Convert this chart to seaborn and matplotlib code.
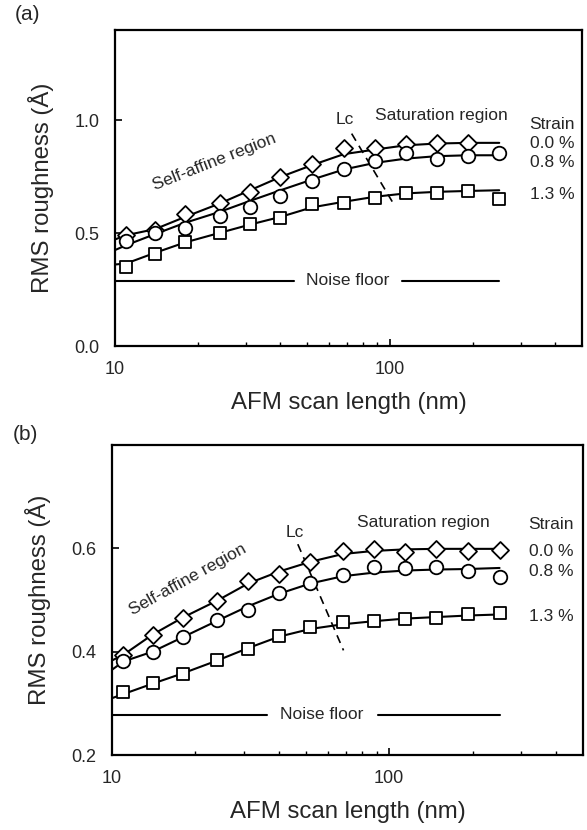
import numpy as np
import pandas as pd
import matplotlib
matplotlib.use("Agg")
import matplotlib.pyplot as plt
from matplotlib.ticker import FixedLocator, NullFormatter, FixedFormatter
import seaborn as sns

# ---------------- data ----------------
scan_length = [11, 14, 18, 24, 31, 40, 52, 68, 88, 114, 148, 193, 250]
fit_length = [10, 11, 14, 18, 24, 31, 40, 52, 68, 88, 114, 148, 193, 250]
strain_labels = ["0.0 %", "0.8 %", "1.3 %"]

# panel (a) measured points
a_strain00 = [0.491, 0.516, 0.585, 0.634, 0.683, 0.749, 0.805, 0.877, 0.879, 0.897, 0.901, 0.901]
a_strain08 = [0.466, 0.501, 0.521, 0.577, 0.614, 0.665, 0.730, 0.786, 0.819, 0.857, 0.830, 0.841, 0.857]
a_strain13 = [0.351, 0.407, 0.462, 0.499, 0.540, 0.568, 0.628, 0.634, 0.656, 0.676, 0.679, 0.686, 0.650]
# panel (a) fitted curves
a_fit00 = [0.472, 0.491, 0.518, 0.572, 0.631, 0.690, 0.749, 0.801, 0.850, 0.870, 0.889, 0.897, 0.900, 0.900]
a_fit08 = [0.425, 0.447, 0.496, 0.546, 0.594, 0.643, 0.690, 0.737, 0.782, 0.811, 0.830, 0.841, 0.845, 0.845]
a_fit13 = [0.361, 0.366, 0.413, 0.459, 0.501, 0.538, 0.572, 0.614, 0.639, 0.661, 0.676, 0.683, 0.687, 0.690]

# panel (b) measured points
b_strain00 = [0.394, 0.433, 0.465, 0.498, 0.537, 0.551, 0.574, 0.595, 0.599, 0.592, 0.599, 0.594, 0.596]
b_strain08 = [0.381, 0.399, 0.429, 0.462, 0.480, 0.513, 0.532, 0.548, 0.563, 0.561, 0.564, 0.556, 0.545]
b_strain13 = [0.322, 0.339, 0.357, 0.383, 0.405, 0.431, 0.447, 0.457, 0.460, 0.464, 0.465, 0.472, 0.474]
# panel (b) fitted curves
b_fit00 = [0.383, 0.394, 0.433, 0.466, 0.499, 0.532, 0.555, 0.574, 0.589, 0.595, 0.598, 0.599, 0.599, 0.599]
b_fit08 = [0.365, 0.381, 0.400, 0.428, 0.460, 0.488, 0.512, 0.532, 0.546, 0.553, 0.557, 0.559, 0.560, 0.562]
b_fit13 = [0.310, 0.318, 0.338, 0.358, 0.383, 0.407, 0.429, 0.444, 0.453, 0.459, 0.464, 0.467, 0.470, 0.472]

noise_a = 0.289
noise_b = 0.278
yticks_a = [0.0, 0.5, 1.0]
yticks_b = [0.2, 0.4, 0.6]
xticks_major = [10, 100]
xticks_minor = [20, 30, 40, 50, 60, 70, 80, 90, 200, 300, 400]

# ---------------- style ----------------
sns.set_style("ticks")
plt.rcParams["font.family"] = ["Liberation Sans", "DejaVu Sans"]

fig = plt.figure(figsize=(5.87, 8.30), dpi=100)
ax_a = fig.add_axes([115 / 587, 1 - 346 / 830, 467 / 587, 316 / 830])
ax_b = fig.add_axes([112 / 587, 1 - 755 / 830, 471 / 587, 310 / 830])

markers = ["D", "o", "s"]
msizes = [75, 95, 85]
LW = 1.5
FS_ANN = 12.5
FS_TICK = 13
FS_LABEL = 17.3


def draw_panel(ax, pts, fits, ylim, yticks, noise, noise_gap, lc_line, lc_txt,
               sat_xy, strain_x, strain_ys, self_xy, self_rot):
    for y, f, m, s in zip(pts, fits, markers, msizes):
        sns.lineplot(x=fit_length, y=f, ax=ax, color="black", lw=LW,
                     estimator=None, sort=False, legend=False)
        sns.scatterplot(x=scan_length[:len(y)], y=y, ax=ax, marker=m, s=s,
                        facecolor="white", edgecolor="black", linewidth=1.3,
                        zorder=5, legend=False)
    ax.set_xscale("log")
    ax.set_xlim(10, 500)
    ax.set_ylim(*ylim)
    ax.xaxis.set_major_locator(FixedLocator(xticks_major))
    ax.xaxis.set_major_formatter(FixedFormatter([str(v) for v in xticks_major]))
    ax.xaxis.set_minor_locator(FixedLocator(xticks_minor))
    ax.xaxis.set_minor_formatter(NullFormatter())
    ax.set_yticks(yticks)
    ax.set_yticklabels([f"{v:.1f}" for v in yticks])
    ax.tick_params(axis="both", which="major", direction="in", length=5,
                   width=1.2, labelsize=FS_TICK, pad=11, color="black")
    ax.tick_params(axis="x", which="minor", direction="in", length=3,
                   width=1.0, color="black")
    for sp in ax.spines.values():
        sp.set_visible(True)
        sp.set_linewidth(1.6)
        sp.set_color("black")
    ax.set_xlabel("AFM scan length (nm)", fontsize=FS_LABEL, labelpad=10)
    ax.set_ylabel("RMS roughness (Å)", fontsize=FS_LABEL, labelpad=15)

    # noise floor
    ax.plot([10, noise_gap[0]], [noise, noise], color="black", lw=LW)
    ax.plot([noise_gap[1], 250], [noise, noise], color="black", lw=LW)
    ax.text(np.sqrt(noise_gap[0] * noise_gap[1]), noise, "Noise floor",
            ha="center", va="center", fontsize=FS_ANN)
    # Lc
    ax.plot(lc_line[0], lc_line[1], color="black", lw=1.2, ls=(0, (5, 3.5)))
    ax.text(lc_txt[0], lc_txt[1], "Lc", ha="center", va="center", fontsize=FS_ANN)
    ax.text(sat_xy[0], sat_xy[1], "Saturation region", ha="center", va="center",
            fontsize=FS_ANN)
    ax.text(strain_x, strain_ys[0], "Strain", ha="center", va="center", fontsize=FS_ANN)
    for lab, yy in zip(strain_labels, strain_ys[1:]):
        ax.text(strain_x, yy, lab, ha="center", va="center", fontsize=FS_ANN)
    ax.text(self_xy[0], self_xy[1], "Self-affine region", ha="center", va="center",
            rotation=self_rot, rotation_mode="anchor", fontsize=FS_ANN)


draw_panel(ax_a, [a_strain00, a_strain08, a_strain13], [a_fit00, a_fit08, a_fit13],
           (0.0, 1.4), yticks_a, noise_a, (44.9, 110.7),
           ([72.6, 103], [0.941, 0.631]), (68.4, 1.004),
           (153.8, 1.022), 389, [0.981, 0.897, 0.811, 0.671],
           (22.9, 0.815), 21.5)
draw_panel(ax_b, [b_strain00, b_strain08, b_strain13], [b_fit00, b_fit08, b_fit13],
           (0.2, 0.8), yticks_b, noise_b, (36.1, 90.8),
           ([46.8, 68.4], [0.608, 0.4025]), (45.5, 0.630),
           (132.5, 0.650), 384, [0.647, 0.593, 0.556, 0.469],
           (18.8, 0.540), 29)

fig.text(27 / 587, 1 - 15 / 830, "(a)", ha="center", va="center", fontsize=15)
fig.text(25 / 587, 1 - 434 / 830, "(b)", ha="center", va="center", fontsize=15)

fig.savefig("out.png", dpi=100)
